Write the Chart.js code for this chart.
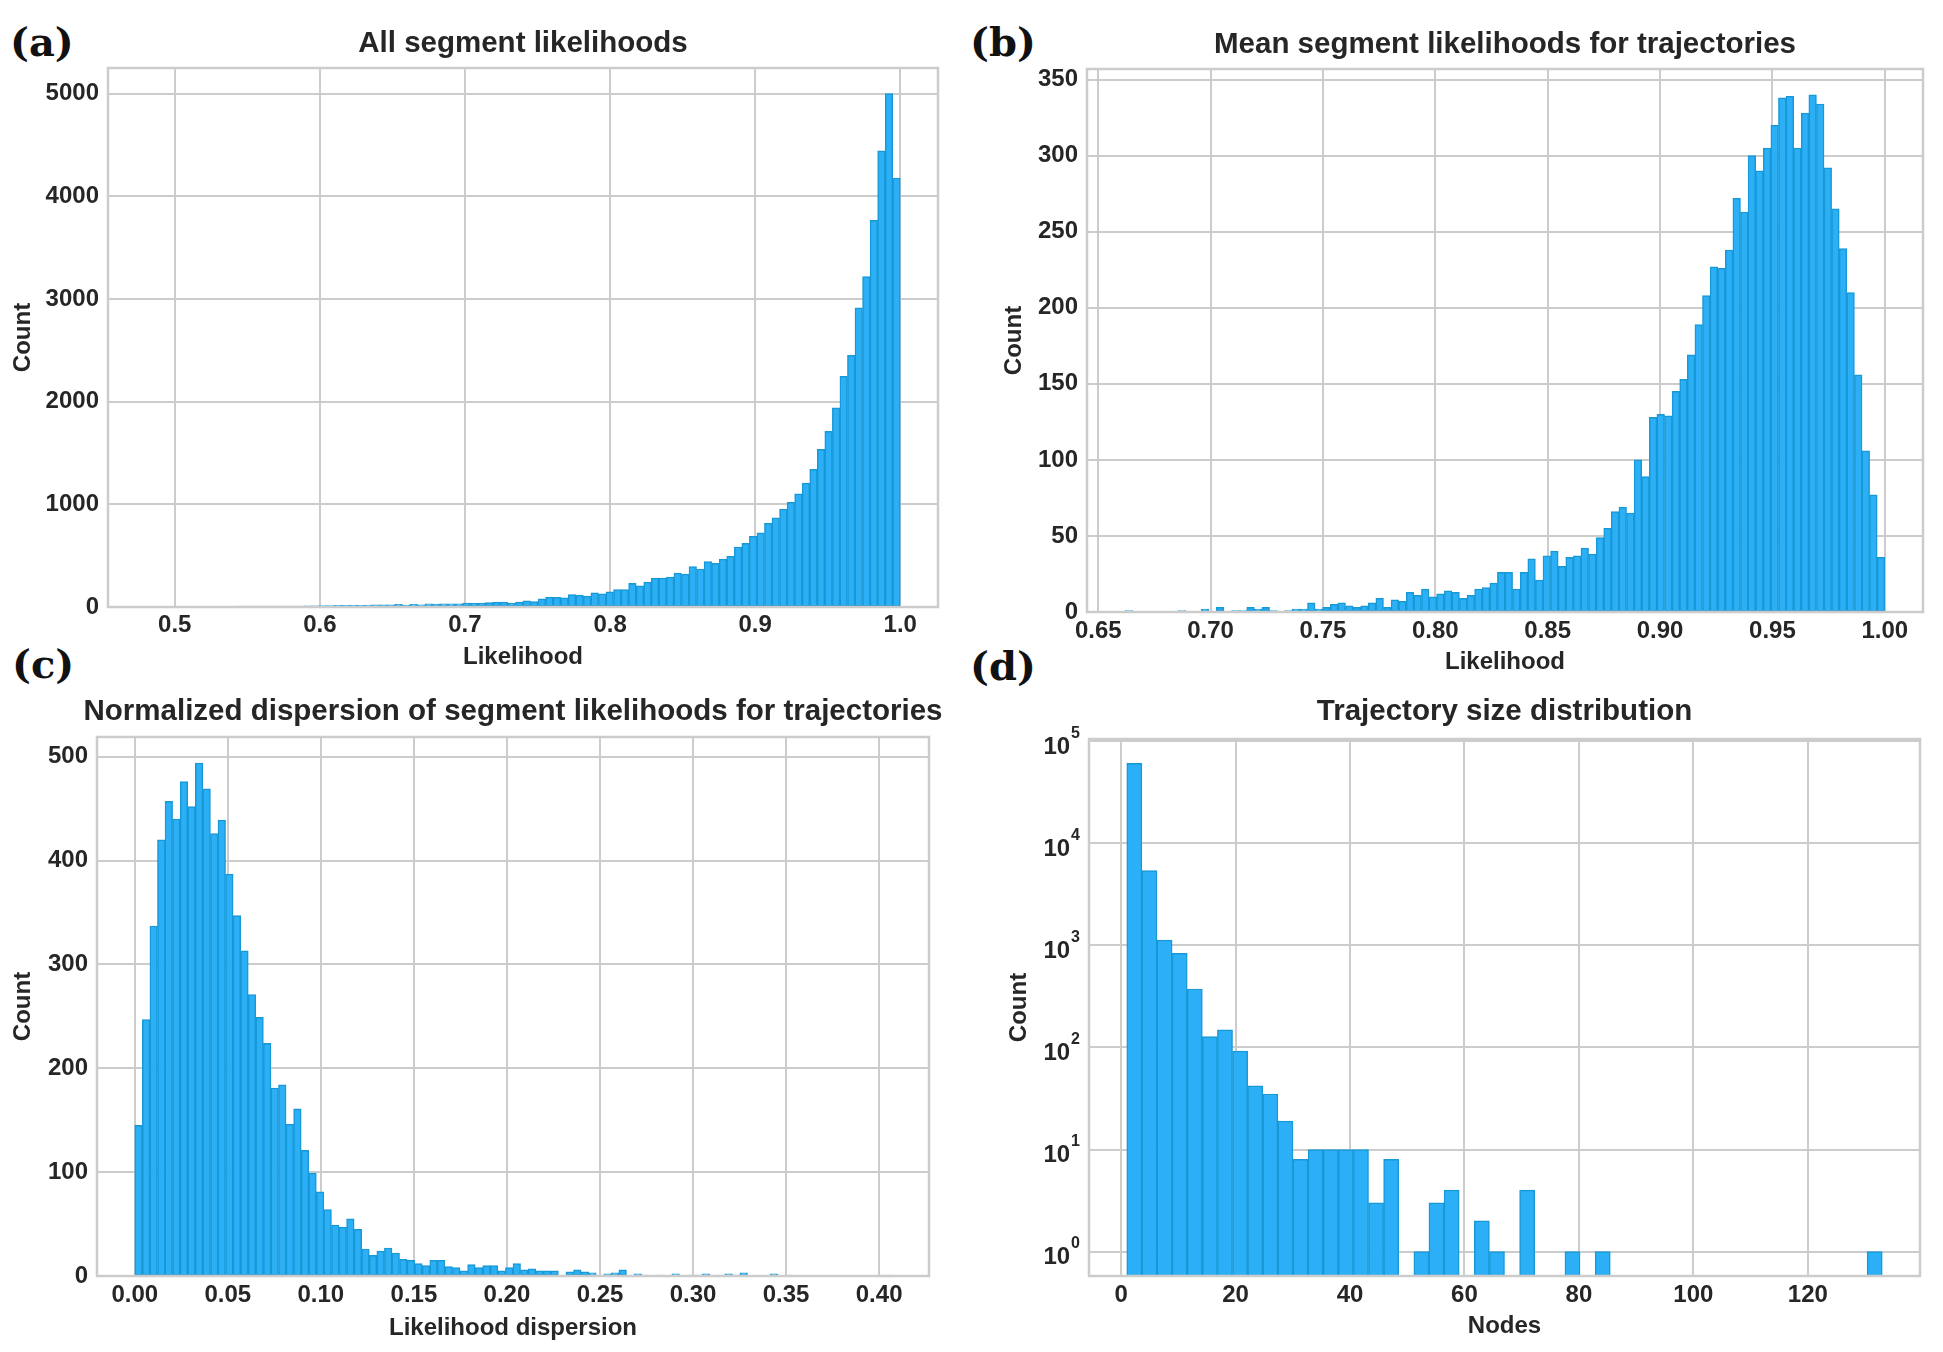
<!DOCTYPE html>
<html lang="en">
<head>
    <meta charset="UTF-8">
    <title>Segment likelihoods</title>
    <script src="https://cdn.jsdelivr.net/npm/chart.js@4.4.1/dist/chart.umd.min.js"></script>
    <style>
        body {
            margin: 0;
            background: #fff;
            width: 1943px;
            height: 1352px;
            position: relative;
            overflow: hidden;
        }
        .panel { position: absolute; }
        .tag {
            position: absolute;
            font-family: 'DejaVu Serif', 'Liberation Serif', serif;
            font-weight: bold;
            font-size: 40px;
            line-height: 1;
            color: #111;
        }
    </style>
</head>
<body>
    <div class="tag" style="left:10px;top:22px">(a)</div>
    <div class="tag" style="left:970px;top:22px">(b)</div>
    <div class="tag" style="left:12px;top:644px">(c)</div>
    <div class="tag" style="left:970px;top:646px">(d)</div>

    <div class="panel" style="left:0;top:0"><canvas id="chart-a" width="971" height="700"></canvas></div>
    <div class="panel" style="left:971px;top:0"><canvas id="chart-b" width="972" height="700"></canvas></div>
    <div class="panel" style="left:0;top:650px"><canvas id="chart-c" width="971" height="702"></canvas></div>
    <div class="panel" style="left:971px;top:650px"><canvas id="chart-d" width="972" height="702"></canvas></div>

    <script>
        // (a) all segment likelihoods: 100 bins from 0.48, width 0.0052
        const allSegStart = 0.48;
        const allSegWidth = 0.0052;
        const allSegCounts = [
            0, 0, 0, 0, 0, 0, 0, 0, 0, 0,
            0, 0, 6, 6, 7, 7, 8, 8, 9, 9,
            10, 11, 11, 13, 13, 16, 16, 19, 16, 19,
            22, 22, 22, 26, 19, 26, 22, 32, 29, 32,
            32, 32, 38, 35, 38, 42, 48, 48, 35, 48,
            61, 54, 80, 96, 93, 90, 122, 115, 106, 138,
            128, 147, 170, 170, 230, 205, 243, 282, 282, 291,
            330, 320, 394, 370, 443, 425, 467, 494, 584, 619,
            688, 723, 816, 868, 954, 1020, 1103, 1207, 1342, 1535,
            1712, 1940, 2248, 2452, 2915, 3219, 3766, 4443, 5000, 4177
        ];
        const allSegXTicks = [0.5, 0.6, 0.7, 0.8, 0.9, 1.0];
        const allSegYTicks = [0, 1000, 2000, 3000, 4000, 5000];

        // (b) mean segment likelihoods per trajectory: 100 bins from 0.662, width 0.00338
        const meanSegStart = 0.662;
        const meanSegWidth = 0.00338;
        const meanSegCounts = [
            1, 0, 0, 0, 0, 0, 0, 1, 0, 0,
            2, 0, 3, 0, 1, 1, 3, 2, 3, 1,
            0, 1, 2, 2, 6, 2, 3, 5, 6, 4,
            3, 4, 6, 9, 3, 8, 7, 13, 11, 15,
            10, 12, 14, 13, 9, 11, 15, 16, 19, 26,
            26, 15, 26, 35, 21, 37, 40, 30, 36, 37,
            42, 38, 49, 55, 66, 69, 65, 100, 89, 128,
            130, 129, 145, 153, 169, 189, 208, 227, 226, 238,
            272, 263, 300, 290, 305, 320, 338, 339, 305, 328,
            340, 334, 292, 265, 239, 210, 156, 106, 77, 36
        ];
        const meanSegXTicks = [0.65, 0.70, 0.75, 0.80, 0.85, 0.90, 0.95, 1.00];
        const meanSegYTicks = [0, 50, 100, 150, 200, 250, 300, 350];

        // (c) normalized dispersion: 100 bins from 0, width 0.004065
        const dispStart = 0;
        const dispWidth = 0.004065;
        const dispCounts = [
            145, 247, 337, 420, 457, 440, 476, 452, 494, 469,
            426, 439, 387, 347, 313, 271, 249, 224, 181, 184,
            146, 161, 121, 99, 81, 64, 49, 47, 55, 45,
            26, 20, 24, 27, 22, 16, 15, 12, 10, 15,
            15, 9, 8, 5, 11, 8, 10, 10, 5, 8,
            12, 6, 7, 5, 5, 5, 0, 4, 6, 4,
            3, 0, 2, 3, 6, 0, 2, 1, 0, 1,
            0, 2, 0, 1, 1, 2, 0, 1, 2, 1,
            3, 0, 0, 0, 2, 0, 1, 0, 0, 0,
            0, 0, 0, 0, 0, 0, 0, 0, 0, 1
        ];
        const dispXTicks = [0, 0.05, 0.10, 0.15, 0.20, 0.25, 0.30, 0.35, 0.40];
        const dispYTicks = [0, 100, 200, 300, 400, 500];

        // (d) trajectory size: 50 bins from 1, width 2.64 (null = empty bin)
        const sizeStart = 1;
        const sizeWidth = 2.64;
        const sizeCounts = [
            60800, 5410, 1127, 836, 374, 128, 149, 92, 42, 35,
            19, 8, 10, 10, 10, 10, 3, 8, null, 1,
            3, 4, null, 2, 1, null, 4, null, null, 1,
            null, 1, null, null, null, null, null, null, null, null,
            null, null, null, null, null, null, null, null, null, 1
        ];
        const sizeXTicks = [0, 20, 40, 60, 80, 100, 120];
        const sizeYTicks = [1, 10, 100, 1000, 10000, 100000];

        const FONT = "'Liberation Sans', Arial, sans-serif";
        const TEXT = '#262626';
        const GRID = '#cccccc';
        const BAR_FILL = '#2bb0f8';
        const BAR_EDGE = '#1899d6';
        const LH = 24 * 1.2;

        Chart.defaults.font.family = FONT;
        Chart.defaults.color = TEXT;

        // frame, panel title and log labels
        const panelDecor = {
            id: 'panelDecor',
            afterDraw(chart, args, opts) {
                const ctx = chart.ctx;
                const a = chart.chartArea;
                ctx.save();
                ctx.strokeStyle = GRID;
                ctx.lineWidth = 2.5;
                ctx.strokeRect(a.left, a.top, a.right - a.left, a.bottom - a.top);

                ctx.fillStyle = TEXT;
                ctx.font = 'bold 29.5px ' + FONT;
                ctx.textAlign = 'center';
                ctx.textBaseline = 'middle';
                ctx.fillText(opts.title, (a.left + a.right) / 2, opts.titleY);

                if (opts.powers) {
                    const ys = chart.scales.y;
                    ctx.textAlign = 'right';
                    ys.ticks.forEach(t => {
                        const py = ys.getPixelForValue(t.value);
                        const exp = String(Math.round(Math.log10(t.value)));
                        ctx.font = 'bold 16px ' + FONT;
                        const ew = ctx.measureText(exp).width;
                        ctx.fillText(exp, a.left - 9, py - 8);
                        ctx.font = 'bold 24px ' + FONT;
                        ctx.fillText('10', a.left - 10 - ew, py + 6);
                    });
                }
                ctx.restore();
            }
        };

        function makeChart(id, cfg) {
            const points = cfg.counts.map((c, i) => ({ x: cfg.start + (i + 0.5) * cfg.width, y: c }));
            return new Chart(document.getElementById(id), {
                type: 'bar',
                data: {
                    datasets: [{
                        data: points,
                        backgroundColor: BAR_FILL,
                        borderColor: BAR_EDGE,
                        borderWidth: 1.5,
                        borderSkipped: false,
                        barPercentage: 1,
                        categoryPercentage: 1
                    }]
                },
                options: {
                    responsive: false,
                    animation: false,
                    devicePixelRatio: 1,
                    layout: { padding: { left: 0, top: cfg.padTop, right: cfg.padRight, bottom: 0 } },
                    plugins: {
                        legend: { display: false },
                        tooltip: { enabled: false },
                        panelDecor: { title: cfg.title, titleY: cfg.titleY, powers: cfg.log }
                    },
                    scales: {
                        x: {
                            type: 'linear',
                            min: cfg.xMin,
                            max: cfg.xMax,
                            offset: false,
                            grid: { offset: false, color: GRID, lineWidth: 2, drawTicks: false },
                            border: { display: false },
                            ticks: {
                                autoSkip: false,
                                maxRotation: 0,
                                padding: cfg.xTickPad,
                                font: { size: 24, weight: 'bold' },
                                callback: v => v.toFixed(cfg.xDec)
                            },
                            afterBuildTicks: s => { s.ticks = cfg.xTicks.map(v => ({ value: v })); },
                            afterFit: s => { s.height = cfg.xAxisH; },
                            title: {
                                display: true,
                                text: cfg.xLabel,
                                font: { size: 24, weight: 'bold' },
                                padding: { top: 0, bottom: cfg.xTitlePad }
                            }
                        },
                        y: {
                            type: cfg.log ? 'logarithmic' : 'linear',
                            min: cfg.yMin,
                            max: cfg.yMax,
                            grid: { color: GRID, lineWidth: 2, drawTicks: false },
                            border: { display: false },
                            ticks: {
                                autoSkip: false,
                                padding: 9,
                                font: { size: 24, weight: 'bold' },
                                callback: v => cfg.log ? '' : v.toFixed(0)
                            },
                            afterBuildTicks: s => { s.ticks = cfg.yTicks.map(v => ({ value: v, major: true })); },
                            afterFit: s => { s.width = cfg.yAxisW; },
                            title: {
                                display: true,
                                text: 'Count',
                                font: { size: 24, weight: 'bold' },
                                padding: { top: cfg.yTitlePad, bottom: 0 }
                            }
                        }
                    }
                },
                plugins: [panelDecor]
            });
        }

        makeChart('chart-a', {
            counts: allSegCounts, start: allSegStart, width: allSegWidth,
            xTicks: allSegXTicks, yTicks: allSegYTicks, xDec: 1,
            xMin: 0.454, xMax: 1.026, yMin: 0, yMax: 5250,
            title: 'All segment likelihoods', titleY: 44, xLabel: 'Likelihood',
            padTop: 68, padRight: 33, xAxisH: 93, yAxisW: 108,
            xTickPad: 3.6, xTitlePad: 700 - 657 - LH / 2, yTitlePad: 23 - LH / 2
        });

        makeChart('chart-b', {
            counts: meanSegCounts, start: meanSegStart, width: meanSegWidth,
            xTicks: meanSegXTicks, yTicks: meanSegYTicks, xDec: 2,
            xMin: 0.645, xMax: 1.017, yMin: 0, yMax: 357,
            title: 'Mean segment likelihoods for trajectories', titleY: 45, xLabel: 'Likelihood',
            padTop: 69, padRight: 20, xAxisH: 88, yAxisW: 116,
            xTickPad: 4.6, xTitlePad: 700 - 662 - LH / 2, yTitlePad: 43 - LH / 2
        });

        makeChart('chart-c', {
            counts: dispCounts, start: dispStart, width: dispWidth,
            xTicks: dispXTicks, yTicks: dispYTicks, xDec: 2,
            xMin: -0.0203, xMax: 0.4268, yMin: 0, yMax: 519,
            title: 'Normalized dispersion of segment likelihoods for trajectories', titleY: 62,
            xLabel: 'Likelihood dispersion',
            padTop: 87, padRight: 42, xAxisH: 76, yAxisW: 97,
            xTickPad: 5, xTitlePad: 702 - 678.6 - LH / 2, yTitlePad: 23 - LH / 2
        });

        makeChart('chart-d', {
            counts: sizeCounts, start: sizeStart, width: sizeWidth, log: true,
            xTicks: sizeXTicks, yTicks: sizeYTicks, xDec: 0,
            xMin: -5.6, xMax: 139.6, yMin: 0.5766, yMax: 105400,
            title: 'Trajectory size distribution', titleY: 62, xLabel: 'Nodes',
            padTop: 89, padRight: 23, xAxisH: 76, yAxisW: 118,
            xTickPad: 5, xTitlePad: 702 - 676 - LH / 2, yTitlePad: 48 - LH / 2
        });
    </script>
</body>
</html>
